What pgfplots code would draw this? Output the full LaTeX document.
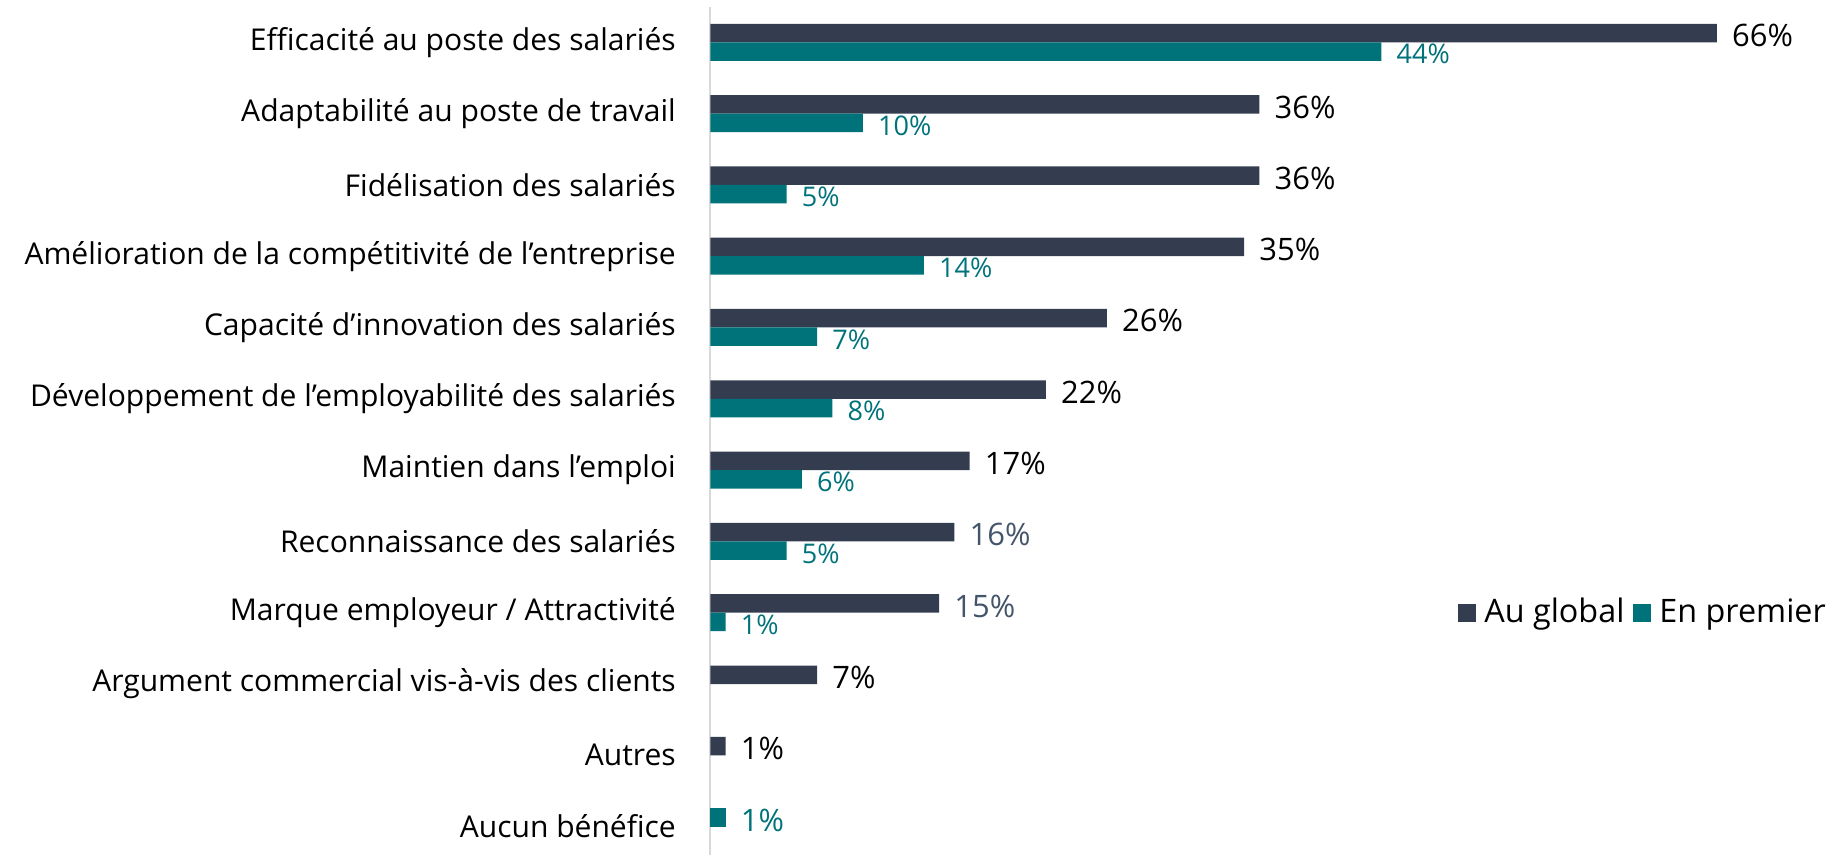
\documentclass[border=0pt]{standalone}
\usepackage{fontspec}
\setmainfont{Open Sans}
\usepackage{pgfplots}
\pgfplotsset{compat=1.18}

\definecolor{navybar}{HTML}{343D50}
\definecolor{tealbar}{HTML}{00737A}
\definecolor{navylab}{HTML}{44546A}
\definecolor{linegray}{HTML}{D9D9D9}

\begin{document}
\begin{tikzpicture}
\useasboundingbox (-71.05mm,0) rectangle (112.85mm,85.5mm);
\begin{axis}[
  xbar, scale only axis,
  width=112.8mm, height=84.8mm,
  xmin=0, xmax=73.97, ymin=0.602, ymax=12.495,
  axis x line=none, axis y line*=left,
  y axis line style={draw=linegray, line width=0.2mm},
  ytick={1,...,12}, major tick length=0pt,
  yticklabels={Aucun bénéfice, Autres\hspace{0.7mm}, Argument commercial vis-à-vis des clients,
    Marque employeur / Attractivité, Reconnaissance des salariés, Maintien dans l’emploi,
    Développement de l’employabilité des salariés, Capacité d’innovation des salariés,
    Amélioration de la compétitivité de l’entreprise, Fidélisation des salariés,
    Adaptabilité au poste de travail, Efficacité au poste des salariés},
  yticklabel style={font=\fontsize{8.55}{10}\selectfont, inner sep=0pt, xshift=-3.4mm},
  bar width=1.85mm,
  point meta=explicit symbolic,
  nodes near coords,
  every node near coord/.append style={anchor=west, inner sep=0pt, xshift=1.45mm, yshift=-0.27mm},
  legend style={at={(1,0.285)}, anchor=east, xshift=-0.4mm, draw=none, fill=none,
    legend columns=2, inner sep=0pt, font=\fontsize{9.2}{11}\selectfont,
    nodes={inner sep=0.8mm},
    /tikz/every even column/.append style={column sep=0.1mm}},
  legend image code/.code={\fill[#1] (0mm,-0.9mm) rectangle (1.8mm,0.9mm);},
  clip=false,
]
% Au global
\addplot[fill=navybar, draw=none, bar shift=0.925mm,
  every node near coord/.append style={font=\fontsize{8.8}{10}\selectfont, text=black}]
  coordinates {
  (66,12) [66\%]
  (36,11) [36\%]
  (36,10) [36\%]
  (35,9) [35\%]
  (26,8) [26\%]
  (22,7) [22\%]
  (17,6) [17\%]
  (16,5) [\textcolor{navylab}{16\%}]
  (15,4) [\textcolor{navylab}{15\%}]
  (7,3) [7\%]
  (1,2) [1\%]
};
\addlegendentry{Au global}
% En premier
\addplot[fill=tealbar, draw=none, bar shift=-0.925mm,
  every node near coord/.append style={font=\fontsize{7.7}{9}\selectfont, text=tealbar}]
  coordinates {
  (44,12) [44\%]
  (10,11) [10\%]
  (5,10) [5\%]
  (14,9) [14\%]
  (7,8) [7\%]
  (8,7) [8\%]
  (6,6) [6\%]
  (5,5) [5\%]
  (1,4) [1\%]
};
\addlegendentry{En premier}
% Aucun bénéfice sits in the upper slot
\addplot[fill=tealbar, draw=none, bar shift=0.925mm, forget plot,
  every node near coord/.append style={font=\fontsize{8.8}{10}\selectfont, text=tealbar}]
  coordinates {(1,1) [1\%]};
\end{axis}
\end{tikzpicture}
\end{document}
